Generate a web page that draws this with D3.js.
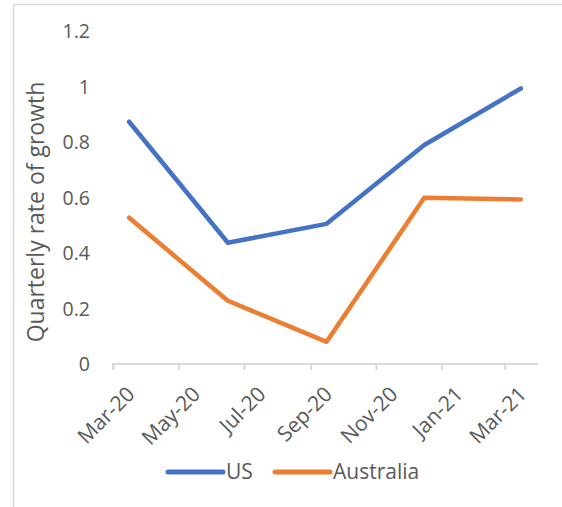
<!DOCTYPE html>
<html>
<head>
<meta charset="utf-8">
<script src="https://cdn.jsdelivr.net/npm/d3@7"></script>
<style>
  html, body { margin: 0; padding: 0; background: #ffffff; }
  svg { display: block; }
</style>
</head>
<body>
<svg id="chart" width="562" height="507"></svg>
<script>
// Quarterly rate of growth, US vs Australia
const quarterDates = ["2020-03-16", "2020-06-16", "2020-09-16", "2020-12-16", "2021-03-16"];
const usValues = [0.873, 0.437, 0.505, 0.789, 0.993];
const australiaValues = [0.527, 0.228, 0.080, 0.599, 0.593];
const seriesNames = ["US", "Australia"];
const seriesColors = ["#4472C4", "#ED7D31"];
const yTicks = [0, 0.2, 0.4, 0.6, 0.8, 1, 1.2];
const xTickDates = ["2020-03-01", "2020-05-01", "2020-07-01", "2020-09-01", "2020-11-01", "2021-01-01", "2021-03-01"];
const axisStart = "2020-03-01";
const axisEnd = "2021-04-01";
const yAxisTitle = "Quarterly rate of growth";

const parse = d3.utcParse("%Y-%m-%d");
const fmtMonth = d3.utcFormat("%b-%y");

const svg = d3.select("#chart");
const font = "'Open Sans', sans-serif";
const textGray = "#595959";
const lineGray = "#d9d9d9";

const plot = { left: 113, right: 538, top: 31, bottom: 364 };

const x = d3.scaleUtc()
  .domain([parse(axisStart), parse(axisEnd)])
  .range([plot.left, plot.right]);
const y = d3.scaleLinear()
  .domain([0, 1.2])
  .range([plot.bottom, plot.top]);

// Chart frame
svg.append("rect")
  .attr("x", 13.5).attr("y", 4.5)
  .attr("width", 600).attr("height", 600)
  .attr("fill", "#fff")
  .attr("stroke", lineGray)
  .attr("stroke-width", 1.5);

// Y axis labels (no axis line)
const yAxis = d3.axisLeft(y)
  .tickValues(yTicks)
  .tickSize(0)
  .tickPadding(0)
  .tickFormat(d3.format("~g"));
const yg = svg.append("g")
  .attr("transform", `translate(${plot.left - 23},0)`)
  .call(yAxis);
yg.select(".domain").remove();
yg.selectAll("text")
  .attr("font-family", font)
  .attr("font-size", 19.5)
  .attr("fill", textGray)
  .attr("dy", "0.35em");

// X axis
const xAxis = d3.axisBottom(x)
  .tickValues(xTickDates.map(parse))
  .tickSize(6)
  .tickPadding(0)
  .tickFormat(fmtMonth);
const xg = svg.append("g")
  .attr("transform", `translate(0,${plot.bottom})`)
  .call(xAxis);
xg.select(".domain")
  .attr("d", `M${plot.left},6V0H${plot.right}`)
  .attr("stroke", lineGray)
  .attr("stroke-width", 2);
xg.selectAll(".tick line")
  .attr("stroke", lineGray)
  .attr("stroke-width", 2);
xg.selectAll("text")
  .attr("font-family", font)
  .attr("font-size", 21)
  .attr("fill", textGray)
  .attr("text-anchor", "end")
  .attr("dy", "0.35em")
  .attr("transform", "translate(13,22) rotate(-45)");

// Y axis title
svg.append("text")
  .attr("transform", `translate(44,212) rotate(-90)`)
  .attr("text-anchor", "middle")
  .attr("font-family", font)
  .attr("font-size", 23)
  .attr("fill", textGray)
  .text(yAxisTitle);

// Series lines
const dates = quarterDates.map(parse);
const seriesValues = [usValues, australiaValues];
const line = d3.line()
  .x(d => x(d[0]))
  .y(d => y(d[1]));

seriesValues.forEach((vals, i) => {
  svg.append("path")
    .datum(dates.map((d, j) => [d, vals[j]]))
    .attr("d", line)
    .attr("fill", "none")
    .attr("stroke", seriesColors[i])
    .attr("stroke-width", 4.5)
    .attr("stroke-linecap", "round")
    .attr("stroke-linejoin", "round");
});

// Legend
const legendY = 472;
const legendItems = [
  { name: seriesNames[0], color: seriesColors[0], x0: 168 },
  { name: seriesNames[1], color: seriesColors[1], x0: 275 }
];
legendItems.forEach(item => {
  svg.append("line")
    .attr("x1", item.x0).attr("x2", item.x0 + 55)
    .attr("y1", legendY).attr("y2", legendY)
    .attr("stroke", item.color)
    .attr("stroke-width", 5)
    .attr("stroke-linecap", "round");
  svg.append("text")
    .attr("x", item.x0 + 58)
    .attr("y", legendY)
    .attr("dy", "0.35em")
    .attr("font-family", font)
    .attr("font-size", 21)
    .attr("fill", textGray)
    .text(item.name);
});
</script>
</body>
</html>
